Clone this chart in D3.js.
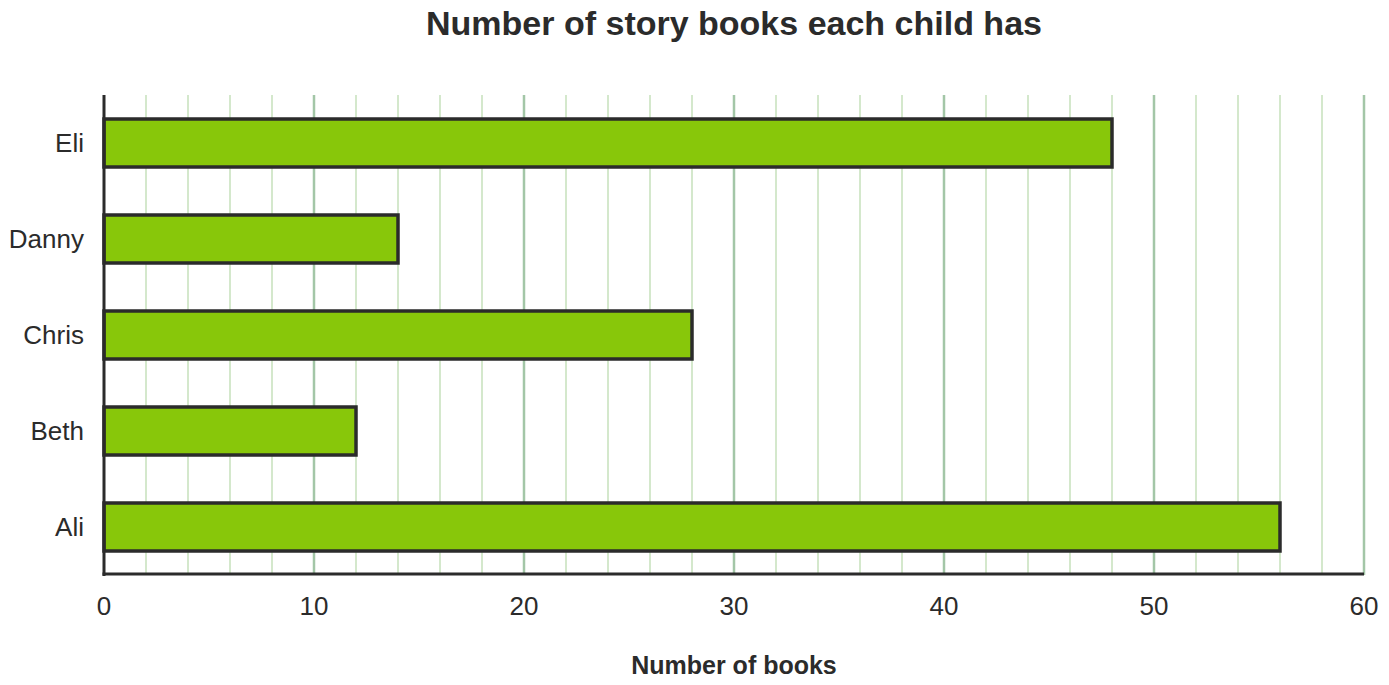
<!DOCTYPE html>
<html><head><meta charset="utf-8">
<script src="https://cdn.jsdelivr.net/npm/d3@7"></script>
<style>body{margin:0;background:#fff;font-family:"Liberation Sans",Arial,sans-serif;}</style>
</head><body><svg id="c" width="1389" height="685"></svg>
<script>
const categories = ["Ali","Beth","Chris","Danny","Eli"];
const books = [56,12,28,14,48];
const xTicks = [0,10,20,30,40,50,60];
const title = "Number of story books each child has";
const xTitle = "Number of books";

const svg = d3.select("#c");
const m = {l:104,r:1364,t:95,b:575};
const x = d3.scaleLinear().domain([0,60]).range([m.l,m.r]);
const y = d3.scaleBand().domain(categories.slice().reverse()).range([m.t,m.b])
  .paddingInner(0.5).paddingOuter(0.25);

// grid
const minor = d3.range(2,61,2).filter(v=>v%10!==0);
svg.append("g").selectAll("line").data(minor).join("line")
  .attr("x1",d=>x(d)).attr("x2",d=>x(d)).attr("y1",m.t).attr("y2",m.b)
  .attr("stroke","#d4e8cc").attr("stroke-width",2);
svg.append("g").selectAll("line").data(xTicks.filter(v=>v>0)).join("line")
  .attr("x1",d=>x(d)).attr("x2",d=>x(d)).attr("y1",m.t).attr("y2",m.b)
  .attr("stroke","#a3c6a7").attr("stroke-width",2.5);

// bars
svg.append("g").selectAll("rect").data(categories).join("rect")
  .attr("x",x(0)).attr("y",d=>y(d))
  .attr("width",(d,i)=>x(books[i])-x(0)).attr("height",y.bandwidth())
  .attr("fill","#88c70a").attr("stroke","#2b2b2b").attr("stroke-width",3.5);

// axes lines
svg.append("line").attr("x1",m.l).attr("x2",m.l).attr("y1",m.t).attr("y2",m.b+1)
  .attr("stroke","#2b2b2b").attr("stroke-width",3);
svg.append("line").attr("x1",m.l-1.5).attr("x2",m.r).attr("y1",m.b-1).attr("y2",m.b-1)
  .attr("stroke","#2b2b2b").attr("stroke-width",3);

// tick labels
svg.append("g").selectAll("text").data(xTicks).join("text")
  .attr("x",d=>x(d)).attr("y",615).attr("text-anchor","middle")
  .attr("font-size",26).attr("fill","#2b2b2b").text(d=>d);
svg.append("g").selectAll("text").data(categories).join("text")
  .attr("x",84).attr("y",d=>y(d)+y.bandwidth()/2+9).attr("text-anchor","end")
  .attr("font-size",26).attr("fill","#2b2b2b").text(d=>d);

svg.append("text").attr("x",734).attr("y",35).attr("text-anchor","middle")
  .attr("font-size",34).attr("font-weight","bold").attr("fill","#2b2b2b").text(title);
svg.append("text").attr("x",734).attr("y",674).attr("text-anchor","middle")
  .attr("font-size",25).attr("font-weight","bold").attr("fill","#2b2b2b").text(xTitle);
</script></body></html>
